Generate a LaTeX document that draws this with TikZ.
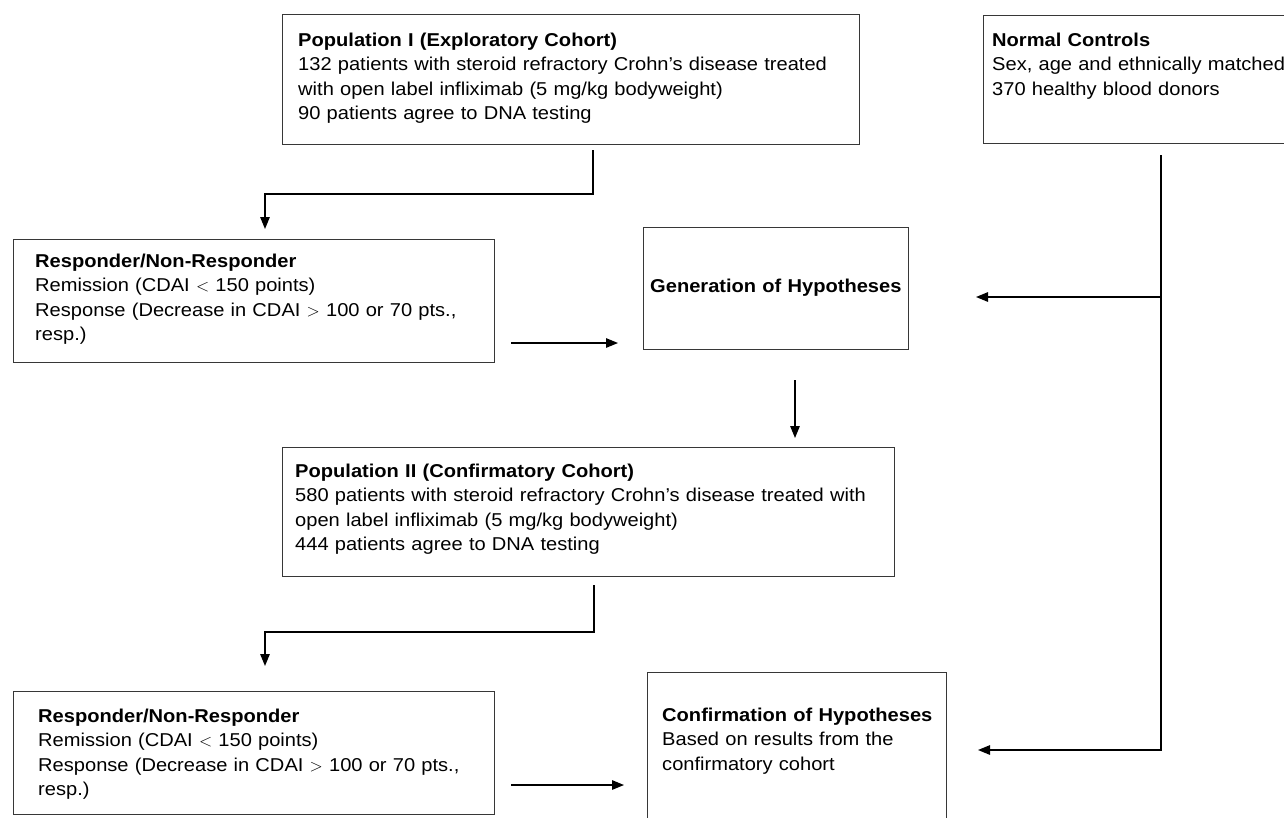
\documentclass[tikz,border=0pt]{standalone}
\usepackage{fontspec}
\setmainfont[FakeStretch=1.08]{Liberation Sans}
\usetikzlibrary{arrows.meta}
\definecolor{boxgray}{RGB}{55,55,55}
\begin{document}
\begin{tikzpicture}[x=1pt,y=-1pt,
  box/.style={draw=boxgray, line width=1.4pt, rectangle, inner sep=0pt, anchor=north west},
  txt/.style={anchor=base west, inner sep=0pt, text width=640pt, align=left, font=\fontsize{18.6pt}{24.5pt}\selectfont},
  conn/.style={line width=1.3pt, black, line join=miter},
  arr/.style={conn, -{Triangle[length=12pt,width=9.5pt]}}]
\useasboundingbox (0,0) rectangle (1284,817);
\clip (0,0) rectangle (1284,817);
% boxes
\node[box, minimum width=577pt, minimum height=130pt] (p1) at (282,14) {};
\node[box, minimum width=340pt, minimum height=128pt] (nc) at (983,15) {};
\node[box, minimum width=481pt, minimum height=123pt] (r1) at (13,239) {};
\node[box, minimum width=265pt, minimum height=122pt] (gen) at (643,227) {};
\node[box, minimum width=612pt, minimum height=129pt] (p2) at (282,447) {};
\node[box, minimum width=481pt, minimum height=123pt] (r2) at (13,691) {};
\node[box, minimum width=299pt, minimum height=200pt] (conf) at (647,672) {};
% texts
\node[txt] (p1t) at (298,46) {\textbf{Population I (Exploratory Cohort)}\\132 patients with steroid refractory Crohn’s disease treated\\with open label infliximab (5 mg/kg bodyweight)\\90 patients agree to DNA testing};
\node[txt] (nct) at (992,46) {\textbf{Normal Controls}\\Sex, age and ethnically matched\\370 healthy blood donors};
\node[txt] (r1t) at (35,267) {\textbf{Responder/Non-Responder}\\Remission (CDAI $<$ 150 points)\\Response (Decrease in CDAI $>$ 100 or 70 pts.,\\resp.)};
\node[txt] (gent) at (650,292) {\textbf{Generation of Hypotheses}};
\node[txt] (p2t) at (295,477) {\textbf{Population II (Confirmatory Cohort)}\\580 patients with steroid refractory Crohn’s disease treated with\\open label infliximab (5 mg/kg bodyweight)\\444 patients agree to DNA testing};
\node[txt] (r2t) at (38,722) {\textbf{Responder/Non-Responder}\\Remission (CDAI $<$ 150 points)\\Response (Decrease in CDAI $>$ 100 or 70 pts.,\\resp.)};
\node[txt] (conft) at (662,721) {\textbf{Confirmation of Hypotheses}\\Based on results from the\\confirmatory cohort};
% connector points
\coordinate (a1) at (593,150); \coordinate (a2) at (593,194);
\coordinate (a3) at (265,194); \coordinate (a4) at (265,229);
\coordinate (b1) at (511,343); \coordinate (b2) at (618,343);
\coordinate (c1) at (1161,155); \coordinate (c2) at (1161,297);
\coordinate (c3) at (976,297); \coordinate (c4) at (1161,750);
\coordinate (c5) at (978,750);
\coordinate (d1) at (795,380); \coordinate (d2) at (795,438);
\coordinate (e1) at (594,585); \coordinate (e2) at (594,632);
\coordinate (e3) at (265,632); \coordinate (e4) at (265,666);
\coordinate (f1) at (511,785); \coordinate (f2) at (624,785);
% connectors
\draw[arr] (a1) -- (a2) -- (a3) -- (a4);
\draw[arr] (b1) -- (b2);
\draw[arr] (c1) -- (c4) -- (c5);
\draw[arr] (c2) -- (c3);
\draw[arr] (d1) -- (d2);
\draw[arr] (e1) -- (e2) -- (e3) -- (e4);
\draw[arr] (f1) -- (f2);
\end{tikzpicture}
\end{document}
